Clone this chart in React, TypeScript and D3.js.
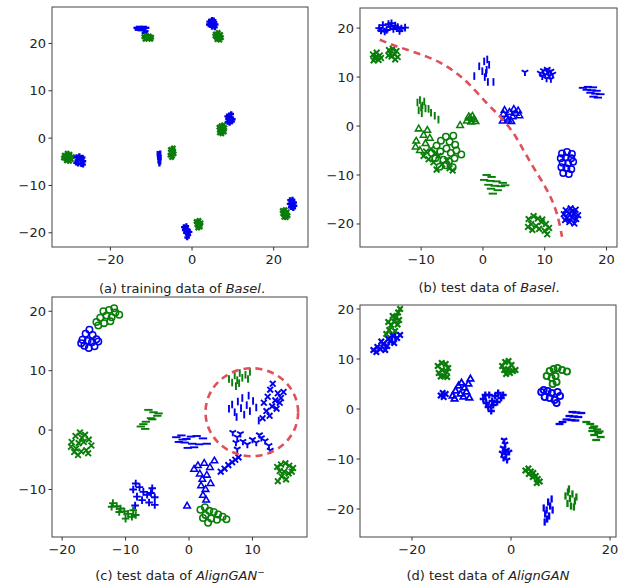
import * as d3 from "d3";

type Pt = [number, number];
type Marker = "x" | "+" | "|" | "_" | "Y" | "^" | "o";
type Cluster = { color: "b" | "g"; marker: Marker; pts: Pt[] };

// panel (a): training data of Basel
const CLUSTERS_A: Cluster[] = [
  { color: "b", marker: "_", pts: [[-13.6, 23.3], [-13.0, 23.5], [-12.4, 23.4], [-11.8, 23.5], [-11.2, 23.3], [-13.3, 22.9], [-12.6, 22.8], [-11.9, 22.9], [-11.4, 22.6], [-12.9, 23.1], [-12.1, 23.2], [-11.6, 22.2]] },
  { color: "g", marker: "x", pts: [[-11.8, 21.4], [-11.2, 21.7], [-10.5, 21.6], [-9.9, 21.3], [-11.5, 20.9], [-10.8, 21.0], [-10.1, 20.9], [-10.6, 21.3], [-11.0, 21.5], [-10.3, 21.2]] },
  { color: "b", marker: "+", pts: [[4.2, 24.6], [4.9, 25.0], [5.5, 24.5], [4.5, 23.9], [5.2, 23.8], [5.8, 24.0], [4.8, 24.3], [5.3, 24.9], [4.1, 24.0], [5.6, 23.4], [4.9, 23.5]] },
  { color: "g", marker: "x", pts: [[5.7, 22.0], [6.4, 22.3], [7.0, 21.9], [5.9, 21.3], [6.6, 21.5], [7.2, 21.2], [6.1, 20.8], [6.8, 20.7], [6.3, 21.8], [5.6, 21.6]] },
  { color: "b", marker: "+", pts: [[8.7, 3.4], [9.2, 3.2], [9.8, 3.5], [8.8, 4.1], [9.5, 4.3], [10.0, 4.0], [9.1, 4.8], [9.6, 5.1], [9.3, 3.8], [8.6, 4.6]] },
  { color: "g", marker: "x", pts: [[6.7, 1.1], [7.3, 0.9], [7.9, 1.3], [6.8, 1.8], [7.5, 2.0], [8.0, 2.2], [7.1, 2.6], [7.7, 2.8], [7.2, 1.5], [6.6, 2.3]] },
  { color: "g", marker: "x", pts: [[-31.3, -3.6], [-30.6, -3.2], [-29.9, -3.4], [-29.3, -3.9], [-31.0, -4.3], [-30.2, -4.0], [-29.6, -4.5], [-30.8, -4.8], [-30.0, -4.9], [-31.5, -4.2]] },
  { color: "b", marker: "+", pts: [[-28.3, -4.0], [-27.6, -3.8], [-26.8, -4.1], [-28.1, -4.7], [-27.3, -4.6], [-26.6, -4.9], [-27.9, -5.4], [-27.1, -5.5], [-26.7, -5.6], [-28.4, -5.2]] },
  { color: "b", marker: "|", pts: [[-8.4, -3.3], [-7.8, -3.2], [-8.3, -4.0], [-7.7, -4.1], [-8.2, -4.8], [-7.8, -5.0], [-8.0, -5.4], [-8.1, -3.7], [-7.9, -4.5]] },
  { color: "g", marker: "x", pts: [[-5.3, -2.4], [-4.6, -2.1], [-5.1, -3.0], [-4.5, -2.8], [-5.4, -3.6], [-4.8, -3.8], [-5.0, -4.1], [-4.4, -3.3], [-4.9, -2.6]] },
  { color: "b", marker: "+", pts: [[-2.0, -18.8], [-1.4, -18.6], [-1.8, -19.4], [-1.1, -19.3], [-0.6, -19.8], [-1.5, -20.0], [-0.9, -20.5], [-1.2, -21.0], [-1.7, -19.1]] },
  { color: "g", marker: "x", pts: [[1.0, -17.6], [1.7, -17.4], [2.2, -17.9], [1.2, -18.3], [1.9, -18.5], [1.4, -19.0], [2.0, -18.8], [1.6, -17.9]] },
  { color: "b", marker: "+", pts: [[24.0, -13.1], [24.6, -13.0], [25.0, -13.6], [23.9, -13.9], [24.5, -14.2], [25.1, -14.3], [24.2, -14.6], [24.8, -14.8]] },
  { color: "g", marker: "x", pts: [[22.1, -15.3], [22.8, -15.1], [23.3, -15.6], [22.2, -16.0], [22.9, -16.2], [23.5, -16.4], [22.5, -16.7], [23.1, -16.8]] },
];

// panel (b): test data of Basel
const CLUSTERS_B: Cluster[] = [
  { color: "b", marker: "+", pts: [[-16.8, 20.0], [-16.2, 20.6], [-15.6, 19.6], [-15.0, 20.3], [-14.5, 19.8], [-13.8, 20.2], [-13.2, 19.9], [-12.6, 20.1], [-15.9, 19.3], [-14.8, 21.0], [-16.5, 19.5], [-13.5, 19.4], [-15.3, 20.8], [-14.2, 20.5]] },
  { color: "g", marker: "x", pts: [[-17.8, 14.6], [-17.2, 15.0], [-16.7, 14.4], [-17.5, 13.8], [-16.9, 13.5], [-17.3, 14.2], [-16.5, 13.9], [-17.7, 13.4]] },
  { color: "g", marker: "x", pts: [[-15.2, 15.5], [-14.6, 15.8], [-14.0, 15.3], [-15.0, 14.8], [-14.3, 14.6], [-13.8, 14.1], [-14.8, 14.2], [-14.2, 13.6], [-15.3, 14.4]] },
  { color: "b", marker: "|", pts: [[-1.4, 10.2], [-0.6, 12.2], [0.2, 13.2], [0.6, 11.5], [0.3, 10.0], [0.8, 9.0], [1.0, 12.5], [0.5, 10.8], [1.7, 9.0], [-0.1, 11.2], [0.7, 13.6]] },
  { color: "b", marker: "Y", pts: [[9.3, 10.8], [9.8, 11.3], [10.4, 11.6], [11.0, 11.2], [10.1, 10.5], [10.8, 10.3], [11.3, 10.6], [9.6, 10.2], [10.3, 9.7], [11.0, 9.6], [10.6, 11.0], [6.8, 11.0]] },
  { color: "b", marker: "_", pts: [[16.2, 7.8], [17.0, 8.0], [17.8, 7.9], [16.8, 7.4], [17.6, 7.3], [18.4, 7.2], [17.4, 6.8], [18.2, 6.6], [19.0, 6.5], [17.9, 6.0], [18.6, 5.8]] },
  { color: "g", marker: "|", pts: [[-10.6, 4.8], [-10.2, 5.3], [-9.8, 4.2], [-9.3, 3.6], [-10.4, 3.2], [-9.9, 2.6], [-8.8, 3.5], [-8.4, 2.7], [-7.8, 2.1], [-7.2, 1.3], [-9.5, 5.0], [-10.0, 3.8]] },
  { color: "g", marker: "^", pts: [[-2.6, 1.0], [-2.1, 1.6], [-1.5, 1.3], [-1.9, 0.8], [-1.2, 0.9], [-2.3, 1.9], [-1.7, 2.0], [-3.7, 0.1]] },
  { color: "b", marker: "^", pts: [[3.3, 2.4], [3.8, 1.6], [4.3, 2.8], [4.8, 1.9], [5.3, 2.6], [5.7, 3.1], [4.1, 1.2], [3.5, 3.2], [5.0, 3.4], [5.9, 2.1], [4.6, 0.9], [3.2, 1.0]] },
  { color: "g", marker: "^", pts: [[-10.4, -0.6], [-9.6, -1.9], [-10.8, -3.1], [-9.3, -3.6], [-10.2, -5.0], [-9.0, -0.9], [-8.6, -2.5], [-10.9, -4.3]] },
  { color: "g", marker: "o", pts: [[-7.5, -4.0], [-6.8, -3.0], [-6.0, -2.2], [-5.4, -3.2], [-4.8, -2.0], [-4.5, -3.8], [-5.9, -4.6], [-6.9, -5.2], [-5.2, -5.5], [-4.3, -5.0], [-7.7, -6.6], [-6.4, -6.9], [-5.5, -7.2], [-4.6, -6.6], [-7.0, -8.3], [-6.0, -8.0], [-4.9, -8.4], [-3.5, -5.8], [-8.3, -5.5]] },
  { color: "g", marker: "x", pts: [[-9.2, -5.2], [-8.4, -4.7], [-7.8, -5.6], [-8.8, -6.8], [-7.2, -6.1], [-8.0, -7.4], [-6.6, -7.8], [-5.4, -8.6], [-4.9, -9.1], [-5.8, -7.0], [-9.6, -6.1], [-7.5, -8.9]] },
  { color: "b", marker: "o", pts: [[12.8, -5.6], [13.6, -5.3], [14.4, -5.7], [12.6, -6.6], [13.4, -6.4], [14.3, -6.6], [12.9, -7.5], [13.8, -7.6], [14.6, -7.3], [12.7, -8.4], [13.5, -8.6], [14.3, -8.8], [13.0, -9.6], [13.9, -9.8]] },
  { color: "g", marker: "_", pts: [[0.6, -10.0], [1.4, -10.4], [0.2, -11.0], [1.2, -11.2], [2.2, -11.3], [3.2, -11.6], [0.9, -12.0], [1.9, -12.2], [2.9, -12.3], [1.3, -12.8], [2.4, -13.1], [1.6, -13.8], [3.6, -12.1]] },
  { color: "g", marker: "x", pts: [[7.4, -19.0], [8.2, -18.4], [8.9, -18.9], [7.8, -20.0], [8.6, -20.4], [9.5, -19.6], [10.2, -20.0], [9.1, -21.0], [10.0, -21.4], [10.7, -20.8], [8.0, -21.2], [10.4, -22.1], [9.6, -19.1], [7.3, -20.6]] },
  { color: "b", marker: "x", pts: [[13.4, -17.2], [14.2, -16.8], [15.0, -17.1], [13.1, -18.0], [13.9, -17.8], [14.7, -17.9], [15.4, -18.2], [13.6, -18.8], [14.4, -18.6], [15.1, -19.0], [14.0, -19.6], [14.8, -19.9], [14.5, -17.4], [13.3, -19.2]] },
];
const CURVE_B: Pt[] = [[-16.7, 17.6], [-14, 16.3], [-10.5, 14.8], [-7, 13], [-4.5, 11], [-2.6, 9], [0.6, 4.7], [3, 1.6], [4.9, -1.4], [6.5, -4.8], [8.1, -8.3], [9.6, -11.4], [10.9, -14.4], [12, -18], [12.8, -22.6]];

// panel (c): test data of AlignGAN-
const CLUSTERS_C: Cluster[] = [
  { color: "g", marker: "o", pts: [[-14.6, 18.2], [-14.0, 18.9], [-13.4, 18.0], [-13.0, 19.3], [-12.6, 20.2], [-12.2, 19.0], [-11.6, 19.8], [-11.0, 19.4], [-13.5, 20.0], [-12.4, 18.3], [-14.3, 17.6], [-11.8, 20.5]] },
  { color: "b", marker: "o", pts: [[-16.8, 15.2], [-16.3, 16.2], [-15.7, 16.9], [-15.2, 16.0], [-16.0, 15.0], [-15.3, 14.8], [-14.6, 15.3], [-16.5, 14.2], [-15.8, 13.8], [-14.9, 14.1], [-14.3, 14.9], [-17.0, 14.6]] },
  { color: "g", marker: "x", pts: [[-18.5, -2.0], [-17.9, -1.0], [-17.2, -0.4], [-16.4, -0.8], [-15.8, -1.6], [-15.4, -2.6], [-16.2, -3.4], [-17.0, -3.6], [-17.8, -3.1], [-18.6, -2.8], [-17.4, -2.2], [-16.6, -2.0], [-16.9, -1.3], [-15.9, -3.9], [-18.1, -3.7], [-17.5, -4.2]] },
  { color: "g", marker: "_", pts: [[-6.4, 3.4], [-5.6, 3.0], [-5.0, 2.4], [-6.0, 2.0], [-6.8, 1.4], [-7.6, 0.6], [-6.9, 0.2], [-5.8, 1.8], [-4.8, 2.8], [-7.2, 1.0]] },
  { color: "b", marker: "_", pts: [[-2.0, -1.2], [-1.2, -0.9], [-0.4, -1.5], [0.3, -1.1], [1.2, -1.0], [2.2, -1.4], [-1.6, -2.0], [-0.7, -2.1], [0.5, -2.3], [1.6, -2.4], [2.8, -2.3], [-0.2, -3.0], [0.8, -2.9], [-1.0, -1.6]] },
  { color: "b", marker: "+", pts: [[-8.8, -10.0], [-8.4, -9.0], [-7.8, -9.6], [-7.2, -10.4], [-6.6, -10.9], [-6.0, -10.6], [-5.4, -11.3], [-8.2, -11.2], [-7.4, -11.8], [-6.3, -12.2], [-5.4, -12.6], [-8.5, -12.7], [-5.8, -9.8]] },
  { color: "g", marker: "+", pts: [[-12.0, -12.3], [-11.4, -12.8], [-10.8, -13.2], [-10.2, -13.7], [-9.6, -14.1], [-9.0, -14.6], [-8.4, -14.3], [-10.0, -14.9], [-11.0, -13.8], [-12.2, -12.9], [-8.8, -13.5]] },
  { color: "b", marker: "^", pts: [[0.8, -6.6], [1.4, -6.0], [1.7, -7.4], [2.4, -5.6], [2.1, -8.3], [2.8, -7.6], [1.9, -9.4], [2.6, -10.0], [2.2, -11.0], [2.7, -11.8], [3.3, -6.3], [4.0, -5.2], [-0.3, -12.8], [3.4, -9.0]] },
  { color: "g", marker: "o", pts: [[1.8, -13.4], [2.5, -13.0], [3.2, -13.6], [3.9, -13.8], [4.6, -14.2], [5.3, -14.6], [2.6, -14.3], [3.5, -14.9], [4.4, -15.1], [3.0, -15.6], [5.9, -15.0], [2.2, -14.8]] },
  { color: "b", marker: "x", pts: [[5.0, -7.0], [5.6, -6.5], [6.2, -5.9], [6.8, -5.4], [7.3, -5.0], [7.8, -4.6]] },
  { color: "g", marker: "|", pts: [[6.3, 8.6], [6.8, 8.0], [7.2, 9.2], [7.6, 8.4], [8.0, 9.6], [8.4, 8.8], [8.9, 9.3], [9.3, 8.6], [7.4, 7.4], [7.9, 7.9], [9.6, 9.8]] },
  { color: "b", marker: "|", pts: [[6.3, 3.6], [6.8, 4.3], [7.2, 3.0], [7.7, 4.8], [8.2, 3.7], [8.7, 2.6], [9.1, 4.2], [9.6, 3.2], [10.1, 4.9], [10.6, 3.8], [7.5, 2.2], [8.4, 5.4], [11.0, 1.6], [9.4, 5.8]] },
  { color: "b", marker: "x", pts: [[11.8, 4.6], [12.4, 5.6], [12.8, 6.8], [13.2, 7.8], [13.6, 5.0], [14.0, 6.2], [14.5, 5.4], [14.9, 6.4], [13.1, 4.0], [12.2, 3.2], [13.8, 3.6], [12.7, 2.4], [14.3, 4.6], [11.6, 2.0]] },
  { color: "b", marker: "Y", pts: [[6.9, -0.4], [7.6, -1.2], [8.1, -0.6], [7.4, -2.1], [8.5, -1.9], [9.2, -2.4], [10.0, -1.6], [10.6, -2.1], [11.4, -1.3], [12.0, -1.8], [12.6, -2.6], [12.8, -3.4], [7.6, -3.2], [11.1, -0.8]] },
  { color: "g", marker: "x", pts: [[13.9, -6.2], [14.5, -5.8], [15.2, -5.6], [15.8, -6.0], [16.4, -6.4], [14.3, -6.9], [15.0, -7.0], [15.7, -7.3], [16.2, -7.0], [14.6, -7.8], [15.3, -8.3], [14.0, -8.6]] },
];
const RING_C = { cx: 9.9, cy: 3.0, rx: 7.3, ry: 7.4 };

// panel (d): test data of AlignGAN
const CLUSTERS_D: Cluster[] = [
  { color: "g", marker: "x", pts: [[-25.2, 15.0], [-24.6, 15.8], [-24.2, 16.8], [-23.6, 17.5], [-23.2, 18.4], [-22.8, 19.3], [-22.4, 20.0], [-23.9, 18.6], [-22.9, 16.9], [-24.8, 17.4], [-23.4, 15.6], [-22.6, 17.8], [-24.0, 14.8]] },
  { color: "b", marker: "x", pts: [[-27.8, 11.8], [-27.0, 12.4], [-26.4, 12.0], [-25.8, 13.0], [-25.0, 12.6], [-24.4, 13.6], [-23.6, 13.2], [-23.0, 14.2], [-22.4, 14.8], [-26.2, 13.5], [-24.8, 14.0], [-23.8, 14.6], [-27.2, 11.4], [-25.4, 11.8]] },
  { color: "g", marker: "x", pts: [[-14.8, 8.6], [-14.0, 9.2], [-13.2, 9.0], [-12.7, 8.2], [-13.9, 7.8], [-13.0, 7.4], [-14.6, 7.2], [-13.6, 6.6], [-12.9, 6.4], [-14.2, 6.5]] },
  { color: "b", marker: "^", pts: [[-11.8, 2.6], [-11.2, 3.6], [-10.6, 4.6], [-10.2, 3.0], [-9.6, 2.4], [-9.0, 3.4], [-8.6, 5.0], [-8.2, 6.0], [-10.0, 5.2], [-8.4, 2.2], [-11.4, 2.0], [-9.4, 4.2]] },
  { color: "b", marker: "x", pts: [[-14.2, 2.7], [-13.6, 2.4], [-13.2, 3.0], [-13.8, 3.2]] },
  { color: "b", marker: "+", pts: [[-5.6, 2.0], [-5.0, 1.2], [-4.4, 2.8], [-3.8, 1.6], [-3.2, 2.6], [-2.6, 3.2], [-2.0, 2.2], [-4.6, 0.4], [-3.6, 0.8], [-2.8, 1.4], [-4.0, -0.4], [-5.2, 2.8], [-1.6, 2.8]] },
  { color: "g", marker: "x", pts: [[-1.8, 8.6], [-1.2, 9.4], [-0.5, 9.6], [0.1, 8.8], [-1.4, 7.8], [-0.6, 8.0], [0.4, 7.6], [-1.0, 7.0], [-0.2, 7.2], [0.9, 7.8]] },
  { color: "g", marker: "o", pts: [[7.2, 6.6], [7.8, 7.6], [8.6, 8.0], [9.4, 8.2], [10.3, 7.8], [8.2, 6.2], [9.0, 6.6], [9.2, 5.4], [8.4, 5.0], [11.3, 7.5]] },
  { color: "b", marker: "o", pts: [[6.1, 3.4], [6.8, 2.4], [7.4, 3.6], [7.8, 2.2], [8.2, 3.2], [8.8, 1.8], [9.4, 3.4], [9.9, 2.6], [9.2, 1.2], [6.6, 3.8]] },
  { color: "b", marker: "_", pts: [[12.4, -0.6], [13.2, -0.7], [14.2, -0.8], [11.8, -1.4], [12.7, -1.5], [13.6, -1.6], [11.2, -2.1], [12.2, -2.2], [10.4, -2.6], [9.8, -3.0], [13.0, -2.3]] },
  { color: "g", marker: "_", pts: [[15.2, -2.6], [16.0, -3.0], [16.8, -3.5], [17.4, -4.1], [16.4, -4.4], [17.6, -4.8], [16.8, -5.2], [18.1, -5.6], [17.2, -6.2], [16.5, -3.8], [17.9, -4.5]] },
  { color: "b", marker: "Y", pts: [[-1.4, -6.2], [-1.2, -7.0], [-1.6, -7.8], [-0.9, -8.2], [-1.8, -8.8], [-1.0, -9.2], [-0.4, -8.6], [-1.5, -9.8], [-0.8, -10.2], [-1.2, -8.5]] },
  { color: "g", marker: "x", pts: [[2.9, -12.3], [3.5, -11.9], [4.0, -12.5], [3.6, -13.0], [4.5, -12.8], [5.0, -13.4], [5.4, -14.0], [5.8, -14.5], [5.2, -14.8], [4.4, -13.6]] },
  { color: "g", marker: "|", pts: [[11.0, -17.4], [11.5, -16.6], [11.9, -17.9], [12.4, -17.0], [12.9, -18.4], [11.4, -18.9], [12.1, -19.4], [12.7, -19.6], [11.7, -16.0], [13.2, -17.6]] },
  { color: "b", marker: "|", pts: [[6.6, -19.8], [6.9, -21.0], [7.2, -20.2], [7.5, -18.6], [7.9, -19.4], [8.2, -18.0], [7.3, -22.0], [6.8, -22.6], [7.7, -21.4], [8.4, -20.2]] },
];

const TICKS_X = { a: [-20, 0, 20], b: [-10, 0, 10, 20], c: [-20, -10, 0, 10], d: [-20, 0, 20] };
const TICKS_Y = { a: [-20, -10, 0, 10, 20], b: [-20, -10, 0, 10, 20], c: [-10, 0, 10, 20], d: [-20, -10, 0, 10, 20] };

const COLORS = { b: "#0000ee", g: "#0a7d0a" };
const FONT = "'DejaVu Sans', sans-serif";

function markerPath(m: Marker, s: number) {
  switch (m) {
    case "x": return `M${-0.75 * s},${-0.75 * s}L${0.75 * s},${0.75 * s}M${-0.75 * s},${0.75 * s}L${0.75 * s},${-0.75 * s}`;
    case "+": return `M${-s},0H${s}M0,${-s}V${s}`;
    case "|": return `M0,${-s}V${s}`;
    case "_": return `M${-s * 1.1},0H${s * 1.1}`;
    case "Y": return `M0,0V${s}M0,0L${-0.87 * s},${-0.5 * s}M0,0L${0.87 * s},${-0.5 * s}`;
    case "^": return `M0,${-s}L${0.87 * s},${0.5 * s}L${-0.87 * s},${0.5 * s}Z`;
    case "o": return `M${0.85 * s},0A${0.85 * s},${0.85 * s} 0 1 1 ${-0.85 * s},0A${0.85 * s},${0.85 * s} 0 1 1 ${0.85 * s},0Z`;
  }
}

type PanelProps = {
  box: [number, number, number, number];
  xd: [number, number];
  yd: [number, number];
  xt: number[];
  yt: number[];
  clusters: Cluster[];
  size: number;
  sw: number;
  children?: (x: d3.ScaleLinear<number, number>, y: d3.ScaleLinear<number, number>) => any;
};

function Panel({ box, xd, yd, xt, yt, clusters, size, sw, children }: PanelProps) {
  const [l, t, r, b] = box;
  const x = d3.scaleLinear().domain(xd).range([l, r]);
  const y = d3.scaleLinear().domain(yd).range([b, t]);
  const fmt = d3.format("d");
  const id = `clip${l}${t}`;
  return (
    <g>
      <clipPath id={id}><rect x={l} y={t} width={r - l} height={b - t} /></clipPath>
      <g clipPath={`url(#${id})`}>
        {clusters.map((c, i) => (
          <g key={i} stroke={COLORS[c.color]} strokeWidth={c.marker === "o" || c.marker === "^" ? sw * 0.8 : sw} fill="none">
            {c.pts.map((p, j) => (
              <path key={j} transform={`translate(${x(p[0])},${y(p[1])})`} d={markerPath(c.marker, size)} />
            ))}
          </g>
        ))}
        {children && children(x, y)}
      </g>
      <rect x={l} y={t} width={r - l} height={b - t} fill="none" stroke="#444" strokeWidth={1} />
      {xt.map((v) => (
        <g key={v}>
          <line x1={x(v)} x2={x(v)} y1={b} y2={b + 3.5} stroke="#333" />
          <text x={x(v)} y={b + 17} textAnchor="middle" fontSize={13} fill="#222" fontFamily={FONT}>{fmt(v)}</text>
        </g>
      ))}
      {yt.map((v) => (
        <g key={v}>
          <line x1={l - 3.5} x2={l} y1={y(v)} y2={y(v)} stroke="#333" />
          <text x={l - 6} y={y(v) + 4.5} textAnchor="end" fontSize={13} fill="#222" fontFamily={FONT}>{fmt(v)}</text>
        </g>
      ))}
    </g>
  );
}

export default function App() {
  const curve = d3.line<Pt>().curve(d3.curveCatmullRom);
  return (
    <svg width={627} height={588} style={{ display: "block", position: "absolute", left: 0, top: 0, background: "#fff" }}>
      <Panel box={[52, 7, 308, 247]} xd={[-34.3, 28.4]} yd={[-23.0, 27.7]} xt={TICKS_X.a} yt={TICKS_Y.a} clusters={CLUSTERS_A} size={2.8} sw={2.4} />
      <Panel box={[360, 8, 617, 247]} xd={[-19.9, 21.7]} yd={[-24.7, 24.1]} xt={TICKS_X.b} yt={TICKS_Y.b} clusters={CLUSTERS_B} size={3.8} sw={1.9}>
        {(x, y) => (
          <path d={curve.x((p) => x(p[0])).y((p) => y(p[1]))(CURVE_B) ?? ""} fill="none" stroke="#e05058" strokeWidth={2.6} strokeDasharray="7,5" />
        )}
      </Panel>
      <Panel box={[52, 297, 307, 537]} xd={[-21.6, 18.6]} yd={[-18.0, 22.4]} xt={TICKS_X.c} yt={TICKS_Y.c} clusters={CLUSTERS_C} size={3.8} sw={1.9}>
        {(x, y) => (
          <ellipse cx={x(RING_C.cx)} cy={y(RING_C.cy)} rx={x(RING_C.cx + RING_C.rx) - x(RING_C.cx)} ry={y(RING_C.cy) - y(RING_C.cy + RING_C.ry)} fill="none" stroke="#e05058" strokeWidth={2.6} strokeDasharray="7,5" />
        )}
      </Panel>
      <Panel box={[360, 305, 616, 537]} xd={[-30.5, 21.2]} yd={[-25.6, 20.8]} xt={TICKS_X.d} yt={TICKS_Y.d} clusters={CLUSTERS_D} size={3.6} sw={2.3} />
      <g fontFamily={FONT} fontSize={13} fill="#222" textAnchor="middle">
        <text x={182} y={293}>(a) training data of <tspan fontStyle="italic">Basel</tspan>.</text>
        <text x={489} y={292}>(b) test data of <tspan fontStyle="italic">Basel</tspan>.</text>
        <text x={180} y={580}>(c) test data of <tspan fontStyle="italic">AlignGAN</tspan><tspan fontSize={9} dy={-5}>−</tspan></text>
        <text x={488} y={580}>(d) test data of <tspan fontStyle="italic">AlignGAN</tspan></text>
      </g>
    </svg>
  );
}
